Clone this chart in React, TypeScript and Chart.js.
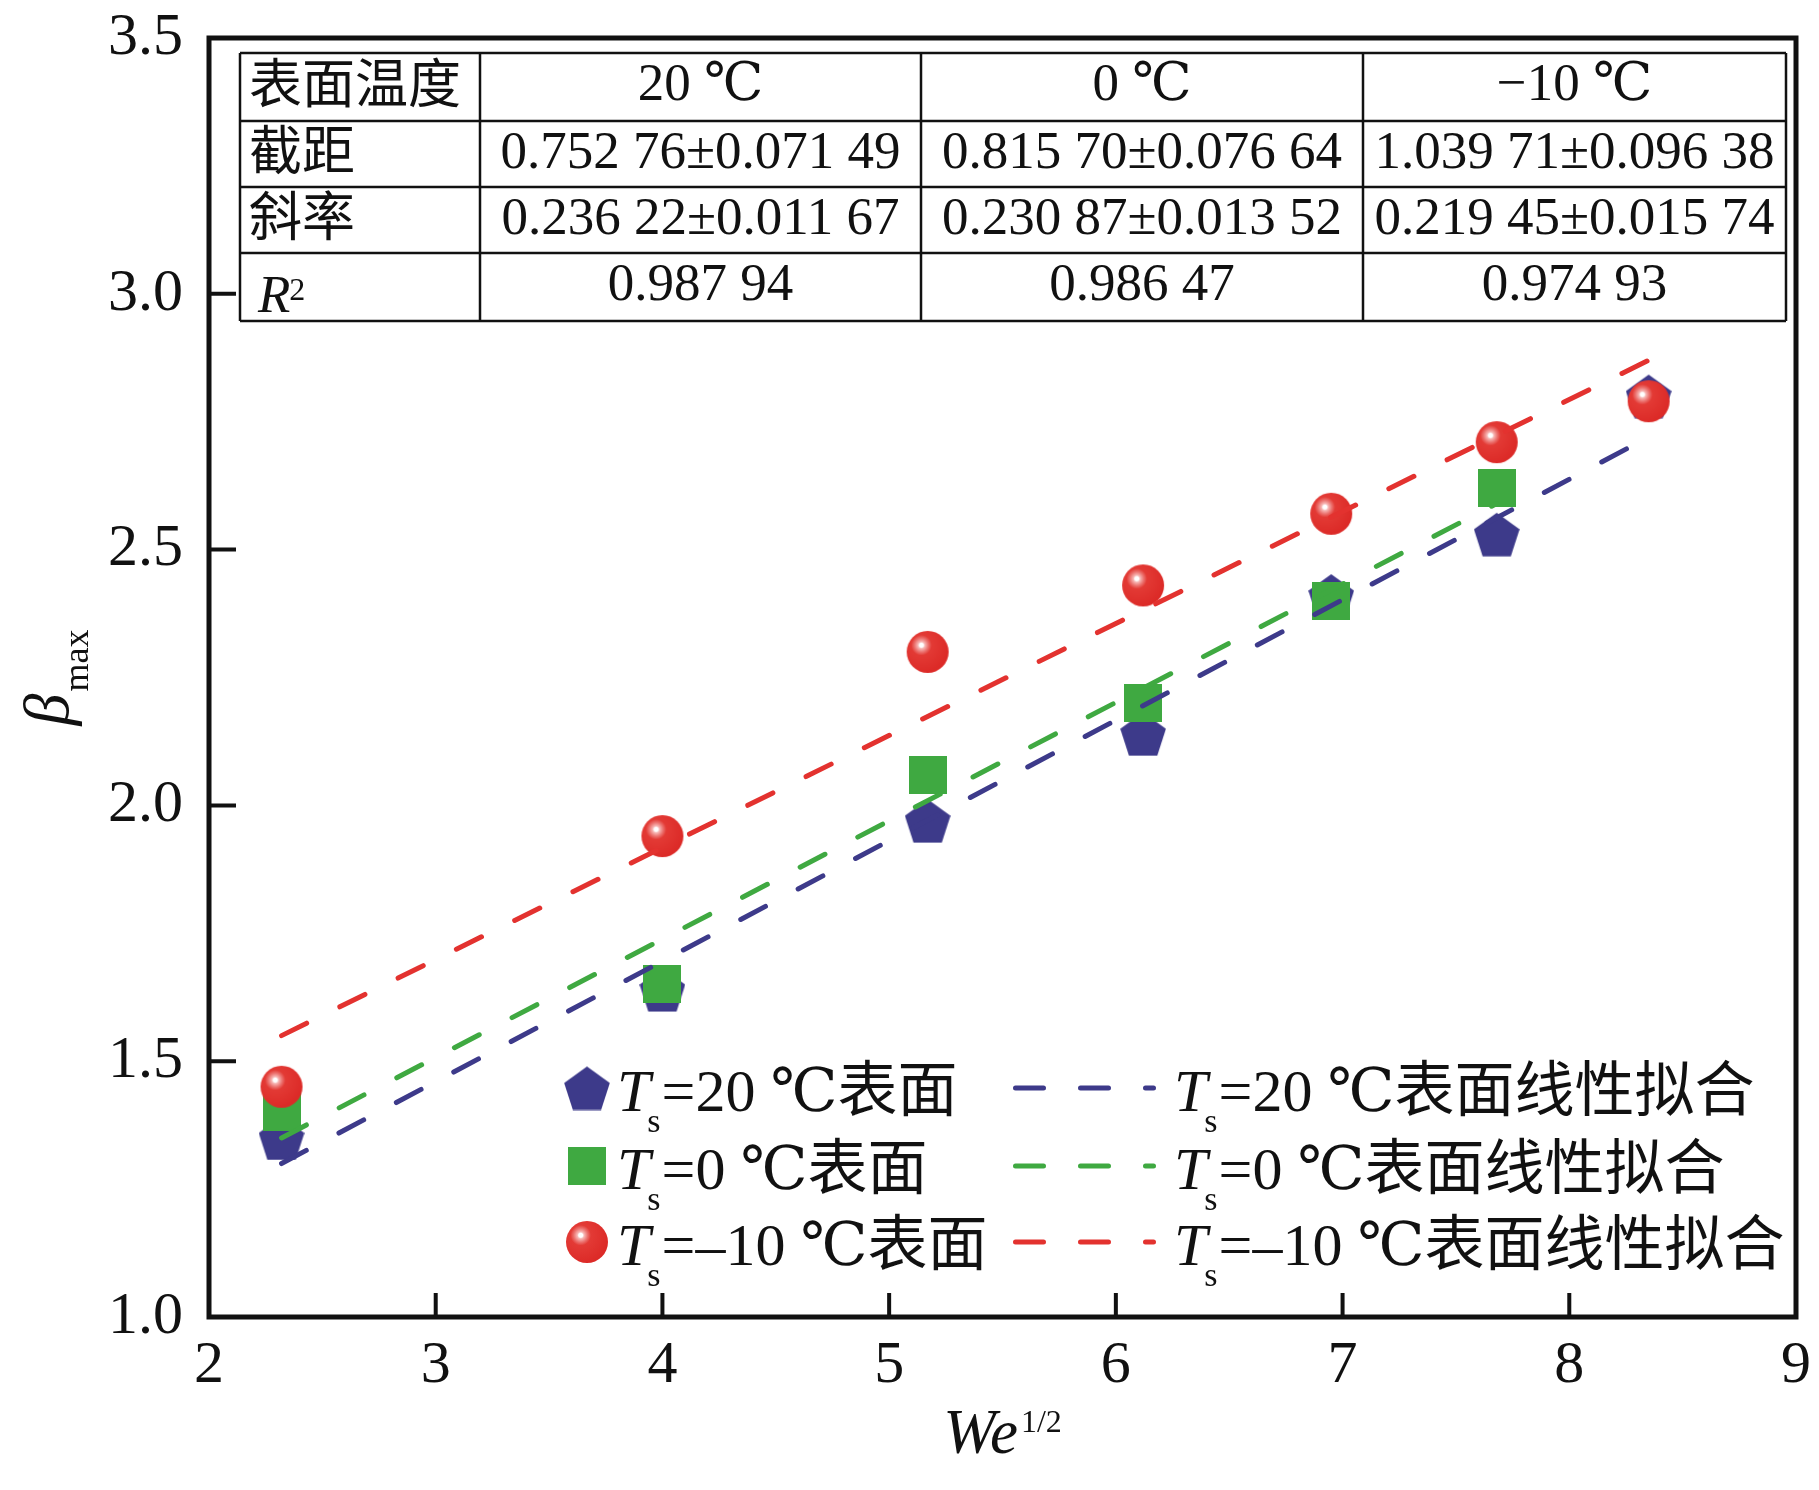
import { useEffect, useRef } from 'react';
import { Chart, registerables } from 'chart.js';

Chart.register(...registerables);

// ---- data ----
const weRoot = [2.32, 4.0, 5.17, 6.12, 6.95, 7.68, 8.35];
const beta20 = [1.35, 1.64, 1.97, 2.14, 2.41, 2.53, 2.8];
const beta0 = [1.4, 1.65, 2.06, 2.2, 2.4, 2.62];
const betaMinus10 = [1.45, 1.94, 2.3, 2.43, 2.57, 2.71, 2.79];

// fit lines (end points)
const fitX20 = [2.32, 8.35];
const fitY20 = [1.3, 2.72];
const fitX0 = [2.32, 7.68];
const fitY0 = [1.35, 2.59];
const fitXm10 = [2.32, 8.35];
const fitYm10 = [1.55, 2.87];

const xTicks = [2, 3, 4, 5, 6, 7, 8, 9];
const yTicks = [1.0, 1.5, 2.0, 2.5, 3.0, 3.5];

const tableHead = ['表面温度', '20 ℃', '0 ℃', '−10 ℃'];
const interceptRow = ['截距', '0.752 76±0.071 49', '0.815 70±0.076 64', '1.039 71±0.096 38'];
const slopeRow = ['斜率', '0.236 22±0.011 67', '0.230 87±0.013 52', '0.219 45±0.015 74'];
const r2Row = ['R', '0.987 94', '0.986 47', '0.974 93'];

const pointLabels = ['=20 ℃表面', '=0 ℃表面', '=–10 ℃表面'];
const fitLabels = ['=20 ℃表面线性拟合', '=0 ℃表面线性拟合', '=–10 ℃表面线性拟合'];

const BLUE = '#3d3a8a';
const GREEN = '#3fa941';
const RED = '#e3322f';
const INK = '#111111';
const SERIF = "'Liberation Serif', 'DejaVu Serif', 'Noto Sans CJK SC', serif";

function makePentagon(color: string) {
  const R = 24;
  const c = document.createElement('canvas');
  c.width = 46;
  c.height = 45;
  const ctx = c.getContext('2d')!;
  const cx = 23;
  const cy = 1 + R;
  ctx.beginPath();
  for (let i = 0; i < 5; i++) {
    const a = -Math.PI / 2 + (i * 2 * Math.PI) / 5;
    ctx.lineTo(cx + R * Math.cos(a), cy + R * Math.sin(a));
  }
  ctx.closePath();
  ctx.fillStyle = color;
  ctx.fill();
  return c;
}

function makeSquare(color: string) {
  const c = document.createElement('canvas');
  c.width = 38;
  c.height = 38;
  const ctx = c.getContext('2d')!;
  ctx.fillStyle = color;
  ctx.fillRect(0, 0, 38, 38);
  return c;
}

function makeSphere(r: number) {
  const s = 2 * r + 2;
  const c = document.createElement('canvas');
  c.width = s;
  c.height = s;
  const ctx = c.getContext('2d')!;
  const cx = s / 2;
  const cy = s / 2;
  const hx = cx - 0.3 * r;
  const hy = cy - 0.32 * r;
  const g = ctx.createRadialGradient(hx, hy, 0, hx, hy, r * 1.35);
  g.addColorStop(0, '#ffffff');
  g.addColorStop(0.07, '#ffffff');
  g.addColorStop(0.12, '#f7b8b6');
  g.addColorStop(0.24, '#ec7471');
  g.addColorStop(0.36, '#e33a35');
  g.addColorStop(1, '#dc2a27');
  ctx.beginPath();
  ctx.arc(cx, cy, r, 0, Math.PI * 2);
  ctx.fillStyle = g;
  ctx.fill();
  return c;
}

// T with subscript s, then the rest
function drawTs(ctx: CanvasRenderingContext2D, x: number, base: number, rest: string) {
  ctx.textAlign = 'left';
  ctx.textBaseline = 'alphabetic';
  ctx.fillStyle = INK;
  ctx.font = `italic 60px ${SERIF}`;
  ctx.fillText('T', x, base);
  const wT = ctx.measureText('T').width;
  ctx.font = `34px ${SERIF}`;
  const sx = x + wT - 3;
  ctx.fillText('s', sx, base + 21);
  const ws = ctx.measureText('s').width;
  ctx.font = `60px ${SERIF}`;
  ctx.fillText(rest, sx + ws + 1, base);
}

export default function App() {
  const canvasRef = useRef<HTMLCanvasElement>(null);
  const chartRef = useRef<Chart | null>(null);

  useEffect(() => {
    if (!canvasRef.current) return;
    const ctx = canvasRef.current.getContext('2d');
    if (!ctx) return;

    const pent = makePentagon(BLUE);
    const sq = makeSquare(GREEN);
    const ball = makeSphere(21);
    const markers = [pent, sq, ball];
    const colors = [BLUE, GREEN, RED];

    const decor = {
      id: 'decor',
      afterDatasetsDraw(chart: Chart) {
        const c = chart.ctx;
        const { left, right, top, bottom } = chart.chartArea;
        const xs = chart.scales.x;
        const ys = chart.scales.y;
        c.save();
        // frame
        c.strokeStyle = INK;
        c.lineWidth = 5;
        c.strokeRect(left, top, right - left, bottom - top);
        // inward ticks
        c.lineWidth = 4;
        c.beginPath();
        xTicks.forEach((v) => {
          const px = xs.getPixelForValue(v);
          if (px <= left + 3 || px >= right - 3) return;
          c.moveTo(px, bottom);
          c.lineTo(px, bottom - 24);
        });
        yTicks.forEach((v) => {
          const py = ys.getPixelForValue(v);
          if (py >= bottom - 3 || py <= top + 3) return;
          c.moveTo(left, py);
          c.lineTo(left + 27, py);
        });
        c.stroke();
        c.restore();
      },
      afterDraw(chart: Chart) {
        const c = chart.ctx;
        const { left, right, top, bottom } = chart.chartArea;
        c.save();

        // ---- table ----
        const colX = [240, 480, 921, 1363, 1786];
        const rowY = [53, 121, 187, 253, 321];
        c.fillStyle = '#ffffff';
        c.fillRect(colX[0], rowY[0], colX[4] - colX[0], rowY[4] - rowY[0]);
        c.strokeStyle = INK;
        c.lineWidth = 2.5;
        c.beginPath();
        colX.forEach((x) => {
          c.moveTo(x, rowY[0]);
          c.lineTo(x, rowY[4]);
        });
        rowY.forEach((y) => {
          c.moveTo(colX[0], y);
          c.lineTo(colX[4], y);
        });
        c.stroke();

        c.fillStyle = INK;
        const rows = [tableHead, interceptRow, slopeRow, r2Row];
        rows.forEach((row, ri) => {
          const rTop = rowY[ri];
          const rMid = (rowY[ri] + rowY[ri + 1]) / 2;
          row.forEach((txt, ci) => {
            if (ci === 0) {
              if (ri === 3) {
                c.textAlign = 'left';
                c.textBaseline = 'alphabetic';
                c.font = `italic 53px ${SERIF}`;
                c.fillText(txt, 258, rTop + 59);
                const w = c.measureText(txt).width;
                c.font = `32px ${SERIF}`;
                c.fillText('2', 258 + w - 1, rTop + 47);
              } else {
                c.textAlign = 'left';
                c.textBaseline = 'middle';
                c.font = `53px ${SERIF}`;
                c.fillText(txt, 249, rMid + 2);
              }
            } else {
              c.textAlign = 'center';
              c.textBaseline = 'alphabetic';
              c.font = `53px ${SERIF}`;
              c.fillText(txt, (colX[ci] + colX[ci + 1]) / 2, rTop + 47);
            }
          });
        });

        // ---- legend ----
        const rowsY = [1088, 1166, 1242];
        rowsY.forEach((cy, i) => {
          const m = markers[i];
          c.drawImage(m, 587 - m.width / 2, cy - m.height / 2);
          drawTs(c, 617, cy + 23, pointLabels[i]);
          c.strokeStyle = colors[i];
          c.lineWidth = 5;
          c.lineCap = 'round';
          c.setLineDash([28, 37]);
          c.beginPath();
          c.moveTo(1015.5, cy);
          c.lineTo(1153.5, cy);
          c.stroke();
          c.setLineDash([]);
          drawTs(c, 1174, cy + 23, fitLabels[i]);
        });

        // ---- axis titles ----
        c.fillStyle = INK;
        c.textBaseline = 'alphabetic';
        c.textAlign = 'left';
        c.font = `italic 63px ${SERIF}`;
        const wWe = c.measureText('We').width;
        c.font = `32px ${SERIF}`;
        const wSup = c.measureText('1/2').width;
        const cxT = (left + right) / 2;
        const x0 = cxT - (wWe + wSup + 3) / 2;
        c.font = `italic 63px ${SERIF}`;
        c.fillText('We', x0, 1453);
        c.font = `32px ${SERIF}`;
        c.fillText('1/2', x0 + wWe + 3, 1432);

        const cyT = (top + bottom) / 2;
        c.translate(68, cyT);
        c.rotate(-Math.PI / 2);
        c.font = `italic 64px ${SERIF}`;
        const wB = c.measureText('β').width;
        c.font = `36px ${SERIF}`;
        const wM = c.measureText('max').width;
        const sx = -(wB + wM + 2) / 2;
        c.font = `italic 64px ${SERIF}`;
        c.fillText('β', sx, 0);
        c.font = `36px ${SERIF}`;
        c.fillText('max', sx + wB + 2, 20);
        c.restore();
      },
    };

    const pts = (ys: number[]) => ys.map((y, i) => ({ x: weRoot[i], y }));
    const line = (xs: number[], ys: number[]) => xs.map((x, i) => ({ x, y: ys[i] }));

    const fitStyle = {
      showLine: true,
      pointRadius: 0,
      borderWidth: 5,
      borderDash: [28, 37],
      borderCapStyle: 'round' as const,
      fill: false,
      order: 0,
    };

    if (chartRef.current) chartRef.current.destroy();
    chartRef.current = new Chart(ctx, {
      type: 'scatter',
      data: {
        datasets: [
          { label: 'Ts=-10 ℃表面', data: pts(betaMinus10), pointStyle: ball, pointRadius: 21, backgroundColor: RED, borderColor: RED, order: 1 },
          { label: 'Ts=0 ℃表面', data: pts(beta0), pointStyle: sq, pointRadius: 19, backgroundColor: GREEN, borderColor: GREEN, order: 2 },
          { label: 'Ts=20 ℃表面', data: pts(beta20), pointStyle: pent, pointRadius: 22, backgroundColor: BLUE, borderColor: BLUE, order: 3 },
          { label: 'fit 20', data: line(fitX20, fitY20), borderColor: BLUE, ...fitStyle },
          { label: 'fit 0', data: line(fitX0, fitY0), borderColor: GREEN, ...fitStyle },
          { label: 'fit -10', data: line(fitXm10, fitYm10), borderColor: RED, ...fitStyle },
        ],
      },
      options: {
        responsive: true,
        maintainAspectRatio: false,
        animation: false,
        events: [],
        layout: { padding: { left: 0, top: 38, right: 19, bottom: 0 } },
        plugins: {
          legend: { display: false },
          tooltip: { enabled: false },
        },
        scales: {
          x: {
            type: 'linear',
            min: 2,
            max: 9,
            afterBuildTicks: (s: any) => {
              s.ticks = xTicks.map((v) => ({ value: v }));
            },
            afterFit: (s: any) => {
              s.height = 173;
              s.paddingLeft = 0;
              s.paddingRight = 0;
            },
            grid: { display: false, drawTicks: false },
            border: { display: false },
            ticks: {
              autoSkip: false,
              maxRotation: 0,
              padding: 13,
              color: INK,
              font: { family: SERIF, size: 60 },
              callback: (v: any) => String(v),
            },
          },
          y: {
            type: 'linear',
            min: 1,
            max: 3.5,
            afterBuildTicks: (s: any) => {
              s.ticks = yTicks.map((v) => ({ value: v }));
            },
            afterFit: (s: any) => {
              s.width = 209;
              s.paddingTop = 0;
              s.paddingBottom = 0;
            },
            grid: { display: false, drawTicks: false },
            border: { display: false },
            ticks: {
              autoSkip: false,
              padding: 26,
              color: INK,
              font: { family: SERIF, size: 60 },
              callback: (v: any) => Number(v).toFixed(1),
            },
          },
        },
      },
      plugins: [decor],
    });

    return () => {
      if (chartRef.current) chartRef.current.destroy();
      chartRef.current = null;
    };
  }, []);

  return (
    <div style={{ position: 'absolute', left: 0, top: 0, width: 1819, height: 1490, background: '#fff' }}>
      <canvas ref={canvasRef}></canvas>
    </div>
  );
}
